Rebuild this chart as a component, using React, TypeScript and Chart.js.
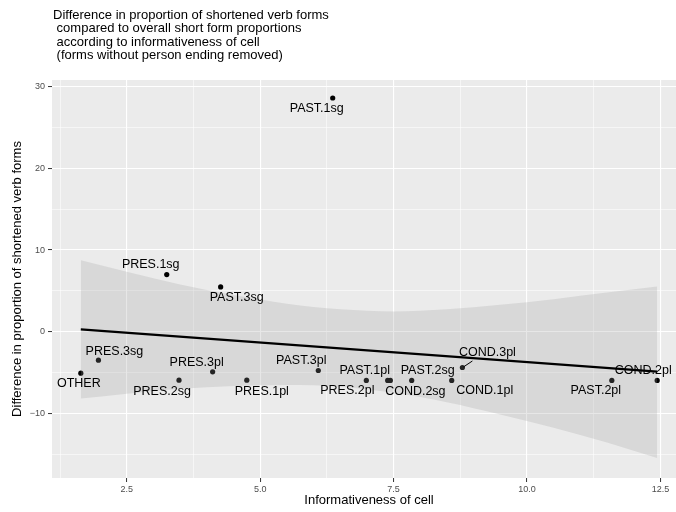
import React, { useEffect, useRef } from 'react';
import { Chart, registerables } from 'chart.js';

Chart.register(...registerables);

// ---- data ----
const CELLS = ['OTHER', 'PRES.3sg', 'PRES.1sg', 'PRES.2sg', 'PRES.3pl', 'PAST.3sg', 'PRES.1pl', 'PAST.3pl', 'PAST.1sg', 'PRES.2pl', 'PAST.1pl', 'COND.2sg', 'PAST.2sg', 'COND.1pl', 'COND.3pl', 'PAST.2pl', 'COND.2pl'];
const INFORMATIVENESS = [1.64, 1.97, 3.25, 3.48, 4.11, 4.26, 4.75, 6.09, 6.36, 6.99, 7.39, 7.44, 7.84, 8.59, 8.79, 11.59, 12.44];
const DIFFERENCE = [-5.05, -3.46, 7.0, -5.9, -4.88, 5.49, -5.9, -4.72, 28.57, -5.93, -5.93, -5.93, -5.93, -5.93, -4.35, -5.93, -5.93];

const FIT_X = [1.64, 12.44];
const FIT_Y = [0.3, -4.85];

const BAND_X = [1.64, 2.5, 3.5, 4.5, 5.5, 6.5, 7.5, 8.5, 9.5, 10.5, 11.5, 12.44];
const BAND_UPPER = [8.75, 7.35, 5.8, 4.5, 3.45, 2.75, 2.5, 2.75, 3.3, 4.0, 4.8, 5.55];
const BAND_LOWER = [-8.15, -7.55, -6.95, -6.6, -6.5, -6.7, -7.45, -8.6, -10.1, -11.7, -13.5, -15.4];

const X_MAJOR = [2.5, 5, 7.5, 10, 12.5];
const X_MAJOR_LABELS = ['2.5', '5.0', '7.5', '10.0', '12.5'];
const X_MINOR = [1.25, 3.75, 6.25, 8.75, 11.25];
const Y_MAJOR = [-10, 0, 10, 20, 30];
const Y_MAJOR_LABELS = ['\u221210', '0', '10', '20', '30'];
const Y_MINOR = [-15, -5, 5, 15, 25];

const TITLE_LINES = [
  'Difference in proportion of shortened verb forms',
  ' compared to overall short form proportions',
  ' according to informativeness of cell',
  ' (forms without person ending removed)',
];
const X_TITLE = 'Informativeness of cell';
const Y_TITLE = 'Difference in proportion of shortened verb forms';

// ---- label layout (pixel offsets from each point, repel-style) ----
const LABEL_LAYOUT: Record<string, { dx: number; dy: number; seg?: number[] }> = {
  'PAST.1sg': { dx: -16, dy: 11 },
  'PRES.1sg': { dx: -16, dy: -10 },
  'PAST.3sg': { dx: 16, dy: 11 },
  'OTHER': { dx: -2, dy: 10 },
  'PRES.3sg': { dx: 16, dy: -9 },
  'PRES.2sg': { dx: -17, dy: 11 },
  'PRES.3pl': { dx: -16, dy: -9 },
  'PRES.1pl': { dx: 15, dy: 11 },
  'PAST.3pl': { dx: -17, dy: -10 },
  'PRES.2pl': { dx: -19, dy: 10 },
  'PAST.1pl': { dx: -23, dy: -10 },
  'COND.2sg': { dx: 25, dy: 11 },
  'PAST.2sg': { dx: 16, dy: -10 },
  'COND.1pl': { dx: 33, dy: 10 },
  'COND.3pl': { dx: 25, dy: -15, seg: [1, -0.5, 10, -6.5] },
  'PAST.2pl': { dx: -16, dy: 10 },
  'COND.2pl': { dx: -14, dy: -10 },
};

const FONT = "'Liberation Sans', Arial, Helvetica, sans-serif";

const isIn = (arr: number[], v: number) => arr.some((a) => Math.abs(a - v) < 1e-6);

const panelBg = {
  id: 'panelBg',
  beforeDraw(chart: any) {
    const { ctx, chartArea } = chart;
    ctx.save();
    ctx.fillStyle = '#EBEBEB';
    ctx.fillRect(chartArea.left, chartArea.top, chartArea.right - chartArea.left, chartArea.bottom - chartArea.top);
    ctx.restore();
  },
};

const overlay = {
  id: 'overlay',
  afterDatasetsDraw(chart: any) {
    const { ctx } = chart;
    const meta = chart.getDatasetMeta(0);
    ctx.save();
    ctx.font = `12.5px ${FONT}`;
    ctx.textAlign = 'center';
    ctx.textBaseline = 'middle';
    ctx.fillStyle = '#000000';
    ctx.strokeStyle = '#000000';
    ctx.lineWidth = 1;
    CELLS.forEach((name, i) => {
      const el = meta.data[i];
      const lay = LABEL_LAYOUT[name];
      if (!el || !lay) return;
      if (lay.seg) {
        ctx.beginPath();
        ctx.moveTo(el.x + lay.seg[0], el.y + lay.seg[1]);
        ctx.lineTo(el.x + lay.seg[2], el.y + lay.seg[3]);
        ctx.stroke();
      }
      ctx.fillText(name, el.x + lay.dx, el.y + lay.dy);
    });
    ctx.restore();
  },
  afterDraw(chart: any) {
    const { ctx } = chart;
    ctx.save();
    ctx.font = `13px ${FONT}`;
    ctx.textAlign = 'left';
    ctx.textBaseline = 'middle';
    ctx.fillStyle = '#000000';
    TITLE_LINES.forEach((line, i) => {
      ctx.fillText(line, 53, 15 + i * 13.6);
    });
    ctx.restore();
  },
};

export default function App() {
  const ref = useRef<HTMLCanvasElement | null>(null);

  useEffect(() => {
    document.body.style.margin = '0';
    if (!ref.current) return;
    const points = INFORMATIVENESS.map((x, i) => ({ x, y: DIFFERENCE[i] }));
    const upper = BAND_X.map((x, i) => ({ x, y: BAND_UPPER[i] }));
    const lower = BAND_X.map((x, i) => ({ x, y: BAND_LOWER[i] }));
    const fit = FIT_X.map((x, i) => ({ x, y: FIT_Y[i] }));

    const gridFor = (major: number[]) => ({
      drawOnChartArea: true,
      drawTicks: true,
      tickLength: 4,
      color: () => '#FFFFFF',
      lineWidth: (c: any) => (c.tick && isIn(major, c.tick.value) ? 1.1 : 0.55),
      tickColor: (c: any) => (c.tick && isIn(major, c.tick.value) ? '#333333' : 'rgba(0,0,0,0)'),
      tickWidth: 1,
    });

    const chart = new Chart(ref.current, {
      type: 'scatter',
      data: {
        datasets: [
          {
            type: 'scatter',
            data: points,
            pointRadius: 2.6,
            pointBackgroundColor: '#000000',
            pointBorderWidth: 0,
            order: 3,
          } as any,
          {
            type: 'line',
            data: upper,
            borderWidth: 0,
            borderColor: 'rgba(0,0,0,0)',
            pointRadius: 0,
            fill: '+1',
            backgroundColor: 'rgba(153,153,153,0.24)',
            cubicInterpolationMode: 'monotone',
            order: 2,
          } as any,
          {
            type: 'line',
            data: lower,
            borderWidth: 0,
            borderColor: 'rgba(0,0,0,0)',
            pointRadius: 0,
            fill: false,
            cubicInterpolationMode: 'monotone',
            order: 2,
          } as any,
          {
            type: 'line',
            data: fit,
            borderColor: '#000000',
            borderWidth: 2.2,
            pointRadius: 0,
            fill: false,
            order: 1,
          } as any,
        ],
      },
      options: {
        responsive: false,
        maintainAspectRatio: false,
        animation: false,
        devicePixelRatio: 1,
        layout: { padding: { top: 80, right: 4, left: 0, bottom: 0 } },
        plugins: {
          legend: { display: false },
          tooltip: { enabled: false },
          title: { display: false },
        },
        scales: {
          x: {
            type: 'linear',
            min: 1.1,
            max: 12.98,
            afterBuildTicks: (s: any) => {
              s.ticks = [...X_MAJOR, ...X_MINOR].sort((a, b) => a - b).map((v) => ({ value: v }));
            },
            afterFit: (s: any) => {
              s.height = 34;
            },
            border: { display: false },
            grid: gridFor(X_MAJOR) as any,
            ticks: {
              autoSkip: false,
              maxRotation: 0,
              padding: 2,
              color: '#4D4D4D',
              font: { size: 9, family: FONT },
              callback: (v: any) => {
                const k = X_MAJOR.findIndex((m) => Math.abs(m - v) < 1e-6);
                return k >= 0 ? X_MAJOR_LABELS[k] : '';
              },
            },
            title: {
              display: true,
              text: X_TITLE,
              color: '#000000',
              font: { size: 13, family: FONT },
              padding: { top: 0, bottom: 4 },
            },
          },
          y: {
            type: 'linear',
            min: -17.85,
            max: 30.77,
            afterBuildTicks: (s: any) => {
              s.ticks = [...Y_MAJOR, ...Y_MINOR].sort((a, b) => a - b).map((v) => ({ value: v }));
            },
            afterFit: (s: any) => {
              s.width = 52;
            },
            border: { display: false },
            grid: gridFor(Y_MAJOR) as any,
            ticks: {
              autoSkip: false,
              padding: 3,
              color: '#4D4D4D',
              font: { size: 9, family: FONT },
              callback: (v: any) => {
                const k = Y_MAJOR.findIndex((m) => Math.abs(m - v) < 1e-6);
                return k >= 0 ? Y_MAJOR_LABELS[k] : '';
              },
            },
            title: {
              display: true,
              text: Y_TITLE,
              color: '#000000',
              font: { size: 13, family: FONT },
              padding: { top: 10, bottom: 0 },
            },
          },
        },
      },
      plugins: [panelBg, overlay],
    });
    return () => chart.destroy();
  }, []);

  return (
    <div style={{ position: 'fixed', left: 0, top: 0, width: 676, height: 512, overflow: 'hidden', background: '#FFFFFF' }}>
      <canvas ref={ref} width={690} height={512} style={{ display: 'block', width: 690, height: 512 }} />
    </div>
  );
}
